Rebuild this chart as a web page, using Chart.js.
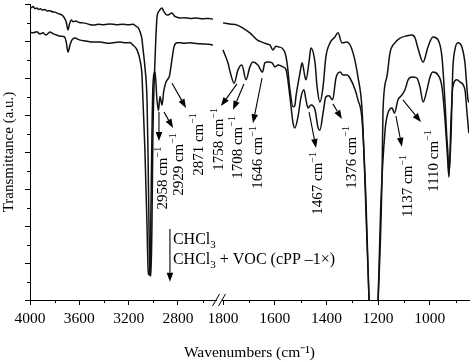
<!DOCTYPE html>
<html>
<head>
<meta charset="utf-8">
<script src="https://cdn.jsdelivr.net/npm/chart.js@4.4.1/dist/chart.umd.min.js"></script>
<style>
  html, body { margin: 0; padding: 0; background: #fff; }
</style>
</head>
<body>
<canvas id="irChart" width="474" height="362"></canvas>
<script>
// FTIR spectra, values (wavenumber in cm-1, transmittance in a.u.)
const chcl3HighWn = [4000, 3990, 3975, 3960, 3945, 3930, 3915, 3900, 3880, 3860, 3840, 3820, 3800, 3770, 3740, 3720, 3705, 3692, 3680, 3665, 3650, 3630, 3600, 3570, 3540, 3510, 3480, 3450, 3400, 3350, 3300, 3250, 3200, 3165, 3140, 3120, 3108, 3092, 3084, 3068, 3051, 3043, 3035, 3027, 3019, 3011, 3003, 2986, 2970, 2962, 2945, 2930, 2915, 2889, 2870, 2849, 2830, 2808, 2780, 2750, 2700, 2650, 2600, 2550, 2516];
const chcl3HighT = [7.92, 7.90, 7.93, 7.87, 7.89, 7.85, 7.87, 7.84, 7.85, 7.81, 7.82, 7.79, 7.78, 7.74, 7.70, 7.62, 7.50, 7.30, 7.45, 7.57, 7.52, 7.54, 7.50, 7.49, 7.47, 7.44, 7.43, 7.45, 7.44, 7.46, 7.44, 7.45, 7.44, 7.45, 7.40, 7.35, 7.25, 7.05, 6.80, 6.30, 5.40, 4.00, 2.00, 0.68, 0.65, 2.00, 4.50, 6.49, 7.65, 7.76, 7.85, 7.89, 7.80, 7.70, 7.72, 7.76, 7.68, 7.64, 7.62, 7.63, 7.61, 7.62, 7.60, 7.61, 7.59];

const chcl3LowWn = [1800, 1773, 1745, 1723, 1696, 1668, 1649, 1630, 1618, 1607, 1595, 1585, 1572, 1560, 1552, 1541, 1529, 1522, 1518, 1502, 1494, 1483, 1479, 1467, 1460, 1444, 1436, 1425, 1413, 1402, 1386, 1367, 1355, 1340, 1320, 1297, 1278, 1262, 1251, 1235, 1225, 1210, 1200, 1185, 1181, 1166, 1154, 1135, 1115, 1088, 1069, 1057, 1046, 1026, 1007, 988, 968, 953, 941, 935, 930, 926, 918, 911, 903, 891, 876, 864, 852, 845];
const chcl3LowT = [7.49, 7.46, 7.43, 7.35, 7.22, 7.03, 6.97, 6.92, 6.89, 6.76, 6.86, 6.84, 6.81, 6.68, 6.40, 5.68, 5.22, 5.25, 5.49, 6.14, 6.41, 6.03, 5.95, 6.45, 6.81, 6.41, 5.76, 5.35, 5.76, 6.57, 6.95, 7.11, 7.22, 6.95, 6.97, 6.68, 6.03, 5.14, 3.24, 0.00, -1.00, -1.00, 0.00, 3.24, 5.14, 6.03, 6.68, 6.95, 7.08, 7.14, 7.16, 7.08, 6.81, 6.43, 6.84, 7.11, 7.03, 6.57, 5.32, 4.50, 3.97, 3.38, 4.41, 6.22, 6.76, 6.95, 6.84, 6.41, 5.41, 5.32];

const mixHighWn = [4000, 3975, 3945, 3919, 3895, 3870, 3838, 3815, 3785, 3750, 3720, 3705, 3692, 3675, 3659, 3635, 3600, 3545, 3489, 3432, 3390, 3351, 3310, 3270, 3220, 3190, 3165, 3132, 3108, 3092, 3084, 3068, 3051, 3043, 3035, 3027, 3019, 3011, 3003, 2986, 2970, 2958, 2946, 2929, 2915, 2897, 2880, 2871, 2857, 2849, 2832, 2808, 2780, 2750, 2700, 2650, 2600, 2550, 2516];
const mixHighT = [7.24, 7.22, 7.25, 7.19, 7.22, 7.16, 7.24, 7.20, 7.16, 7.13, 7.11, 6.95, 6.70, 6.90, 7.03, 7.08, 7.03, 7.00, 6.97, 6.97, 6.95, 6.94, 6.96, 6.97, 6.95, 6.96, 6.89, 6.76, 6.49, 6.08, 5.41, 4.05, 2.00, 0.90, 0.68, 0.70, 2.50, 4.50, 5.80, 6.16, 5.40, 5.12, 5.50, 5.27, 5.65, 5.89, 5.98, 6.03, 6.30, 6.49, 6.84, 6.95, 6.95, 6.94, 6.95, 6.93, 6.92, 6.91, 6.89];

const mixLowWn = [1800, 1781, 1770, 1757, 1742, 1727, 1711, 1696, 1684, 1665, 1647, 1638, 1626, 1610, 1599, 1587, 1568, 1556, 1541, 1529, 1522, 1510, 1498, 1487, 1479, 1471, 1460, 1444, 1433, 1425, 1413, 1402, 1390, 1376, 1363, 1347, 1336, 1320, 1309, 1289, 1278, 1262, 1247, 1235, 1228, 1208, 1200, 1190, 1173, 1162, 1146, 1137, 1123, 1108, 1096, 1084, 1069, 1050, 1038, 1026, 1011, 999, 988, 968, 953, 941, 930, 926, 918, 911, 895, 883, 864, 856, 849];
const mixLowT = [6.76, 6.41, 6.10, 5.86, 6.22, 6.35, 5.95, 6.30, 6.43, 6.35, 6.16, 6.41, 6.43, 6.41, 6.30, 6.35, 6.30, 6.22, 5.49, 4.78, 4.65, 4.95, 5.49, 5.68, 5.41, 5.19, 5.27, 5.14, 4.68, 4.59, 5.05, 5.49, 5.52, 5.41, 6.00, 6.16, 6.08, 6.08, 6.00, 5.68, 5.41, 4.86, 2.70, 0.00, -1.00, -1.00, 0.00, 2.50, 4.59, 5.05, 5.19, 5.05, 5.41, 5.54, 5.68, 5.95, 6.03, 6.00, 5.76, 5.35, 5.68, 6.03, 6.16, 6.08, 5.76, 4.86, 3.70, 3.32, 4.86, 5.76, 5.95, 5.89, 5.68, 5.05, 4.51];

const majorTickWn = [4000, 3600, 3200, 2800, 1800, 1600, 1400, 1200, 1000];
const minorTickWn = [3800, 3400, 3000, 2600, 1700, 1500, 1300, 1100, 900];

const seriesNames = ['CHCl3', 'CHCl3 + VOC (cPP \u20131\u00d7)'];

// band assignments marked with arrows
const peakNotes = [
  { text: '2958', tail: [2954, 5.08], tip: [2954, 4.30], at: [2929, 4.14] },
  { text: '2929', tail: [2913, 5.08], tip: [2840, 4.65], at: [2800, 4.51] },
  { text: '2871', tail: [2848, 5.86], tip: [2735, 5.19], at: [2638, 5.05] },
  { text: '1758', tail: [1746, 5.84], tip: [1808, 5.24], at: [1819, 5.19] },
  { text: '1708', tail: [1719, 5.84], tip: [1761, 5.14], at: [1746, 4.97] },
  { text: '1646', tail: [1649, 6.00], tip: [1684, 4.78], at: [1668, 4.70] },
  { text: '1467', tail: [1467, 5.08], tip: [1440, 4.11], at: [1436, 4.00] },
  { text: '1376', tail: [1375, 5.30], tip: [1340, 4.89], at: [1305, 4.70] },
  { text: '1137', tail: [1131, 4.97], tip: [1108, 4.14], at: [1088, 3.92] },
  { text: '1110', tail: [1104, 5.41], tip: [1034, 4.81], at: [988, 4.59] }
];

// broken wavenumber axis: 4000-2400 compressed, 1800-850 expanded
function axisPos(wn) {
  return wn > 2400 ? (4000 - wn) * 0.1233 : 193 + (1800 - wn) * 0.2585;
}

function toPoints(wns, vals) {
  return wns.map((w, i) => ({ x: axisPos(w), y: vals[i] }));
}

const SERIF = '"Liberation Serif", "Times New Roman", serif';

function arrow(ctx, x1, y1, x2, y2) {
  const ang = Math.atan2(y2 - y1, x2 - x1);
  const len = 9, half = 3.3;
  const bx = x2 - Math.cos(ang) * len, by = y2 - Math.sin(ang) * len;
  ctx.beginPath();
  ctx.moveTo(x1, y1);
  ctx.lineTo(bx, by);
  ctx.stroke();
  ctx.beginPath();
  ctx.moveTo(x2, y2);
  ctx.lineTo(bx - Math.sin(ang) * half, by + Math.cos(ang) * half);
  ctx.lineTo(bx + Math.sin(ang) * half, by - Math.cos(ang) * half);
  ctx.closePath();
  ctx.fill();
}

function rotatedLabel(ctx, px, pyTop, num) {
  const big = '15px ' + SERIF, small = '10px ' + SERIF;
  ctx.font = big;
  const w1 = ctx.measureText(num + ' cm').width;
  ctx.font = small;
  const w2 = ctx.measureText('\u22121').width;
  ctx.save();
  ctx.translate(px, pyTop);
  ctx.rotate(-Math.PI / 2);
  ctx.textAlign = 'left';
  ctx.textBaseline = 'alphabetic';
  ctx.font = big;
  ctx.fillText(num + ' cm', -(w1 + w2), 5);
  ctx.font = small;
  ctx.fillText('\u22121', -w2, -1.5);
  ctx.restore();
}

function subText(ctx, x, y, parts) {
  // parts: [text, isSub]
  let cx = x;
  parts.forEach(([t, sub]) => {
    ctx.font = (sub ? '11px ' : '16px ') + SERIF;
    ctx.fillText(t, cx, sub ? y + 4 : y);
    cx += ctx.measureText(t).width;
  });
}

const marksPlugin = {
  id: 'irMarks',
  afterDraw(chart) {
    const { ctx, scales: { x, y } } = chart;
    ctx.save();
    ctx.strokeStyle = '#000';
    ctx.fillStyle = '#000';
    ctx.lineWidth = 1;

    // minor ticks
    minorTickWn.forEach(wn => {
      const px = Math.round(x.getPixelForValue(axisPos(wn))) + 0.5;
      ctx.beginPath();
      ctx.moveTo(px, y.bottom);
      ctx.lineTo(px, y.bottom + 3);
      ctx.stroke();
    });
    for (let v = 0.5; v < 8; v += 1) {
      const py = Math.round(y.getPixelForValue(v)) + 0.5;
      ctx.beginPath();
      ctx.moveTo(x.left - 3, py);
      ctx.lineTo(x.left, py);
      ctx.stroke();
    }

    // axis break
    const bx = x.getPixelForValue(189);
    const by = y.bottom;
    ctx.fillStyle = '#fff';
    ctx.fillRect(bx - 2, by - 2, 5, 4);
    ctx.fillStyle = '#000';
    [bx - 3, bx + 3].forEach(cx => {
      ctx.beginPath();
      ctx.moveTo(cx - 3.5, by + 6);
      ctx.lineTo(cx + 3.5, by - 6);
      ctx.stroke();
    });

    // peak arrows and labels
    ctx.lineWidth = 1.1;
    peakNotes.forEach(n => {
      const tx = x.getPixelForValue(axisPos(n.tail[0])), ty = y.getPixelForValue(n.tail[1]);
      const hx = x.getPixelForValue(axisPos(n.tip[0])), hy = y.getPixelForValue(n.tip[1]);
      arrow(ctx, tx, ty, hx, hy);
      rotatedLabel(ctx, x.getPixelForValue(axisPos(n.at[0])), y.getPixelForValue(n.at[1]), n.text);
    });

    // series key
    const ax = x.getPixelForValue(axisPos(2865));
    arrow(ctx, ax, y.getPixelForValue(1.92), ax, y.getPixelForValue(0.49));
    ctx.textAlign = 'left';
    ctx.textBaseline = 'alphabetic';
    const names = chart.data.datasets.filter(d => d.showInKey).map(d => d.label);
    const lx = ax + 3;
    subText(ctx, lx, y.getPixelForValue(1.51), [['CHCl', false], ['3', true]]);
    subText(ctx, lx, y.getPixelForValue(0.97), [['CHCl', false], ['3', true], [names[1].slice(5), false]]);
    ctx.restore();
  }
};

const lineStyle = {
  borderColor: '#111',
  borderWidth: 1.5,
  pointRadius: 0,
  fill: false,
  cubicInterpolationMode: 'monotone'
};

new Chart(document.getElementById('irChart').getContext('2d'), {
  type: 'line',
  data: {
    datasets: [
      { ...lineStyle, label: seriesNames[0], showInKey: true, data: toPoints(chcl3HighWn, chcl3HighT) },
      { ...lineStyle, label: seriesNames[0], data: toPoints(chcl3LowWn, chcl3LowT) },
      { ...lineStyle, label: seriesNames[1], showInKey: true, data: toPoints(mixHighWn, mixHighT) },
      { ...lineStyle, label: seriesNames[1], data: toPoints(mixLowWn, mixLowT) }
    ]
  },
  options: {
    responsive: false,
    animation: false,
    layout: { padding: { top: 4, right: 5, left: 0, bottom: 0 } },
    plugins: {
      legend: { display: false },
      tooltip: { enabled: false }
    },
    scales: {
      x: {
        type: 'linear',
        min: 0,
        max: 439,
        afterFit: s => { s.height = 62; },
        afterBuildTicks: s => { s.ticks = majorTickWn.map(w => ({ value: axisPos(w) })); },
        ticks: {
          autoSkip: false,
          maxRotation: 0,
          padding: 5,
          color: '#000',
          font: { family: SERIF, size: 15.5 },
          callback: (v, i) => String(majorTickWn[i])
        },
        grid: { display: true, drawOnChartArea: false, drawTicks: true, tickLength: 5, color: '#000' },
        border: { display: true, color: '#000', width: 1 },
        title: {
          display: true,
          text: 'Wavenumbers (cm\u207b\u00b9)',
          color: '#000',
          font: { family: SERIF, size: 15.5 },
          padding: { top: 0, bottom: 0 }
        }
      },
      y: {
        min: 0,
        max: 8,
        afterFit: s => { s.width = 30; },
        ticks: { display: false, stepSize: 1 },
        grid: { display: true, drawOnChartArea: false, drawTicks: true, tickLength: 5, color: '#000' },
        border: { display: true, color: '#000', width: 1 },
        title: {
          display: true,
          text: 'Transmittance (a.u.)',
          color: '#000',
          font: { family: SERIF, size: 15 },
          padding: { top: 0, bottom: 0 }
        }
      }
    }
  },
  plugins: [marksPlugin]
});
</script>
</body>
</html>
